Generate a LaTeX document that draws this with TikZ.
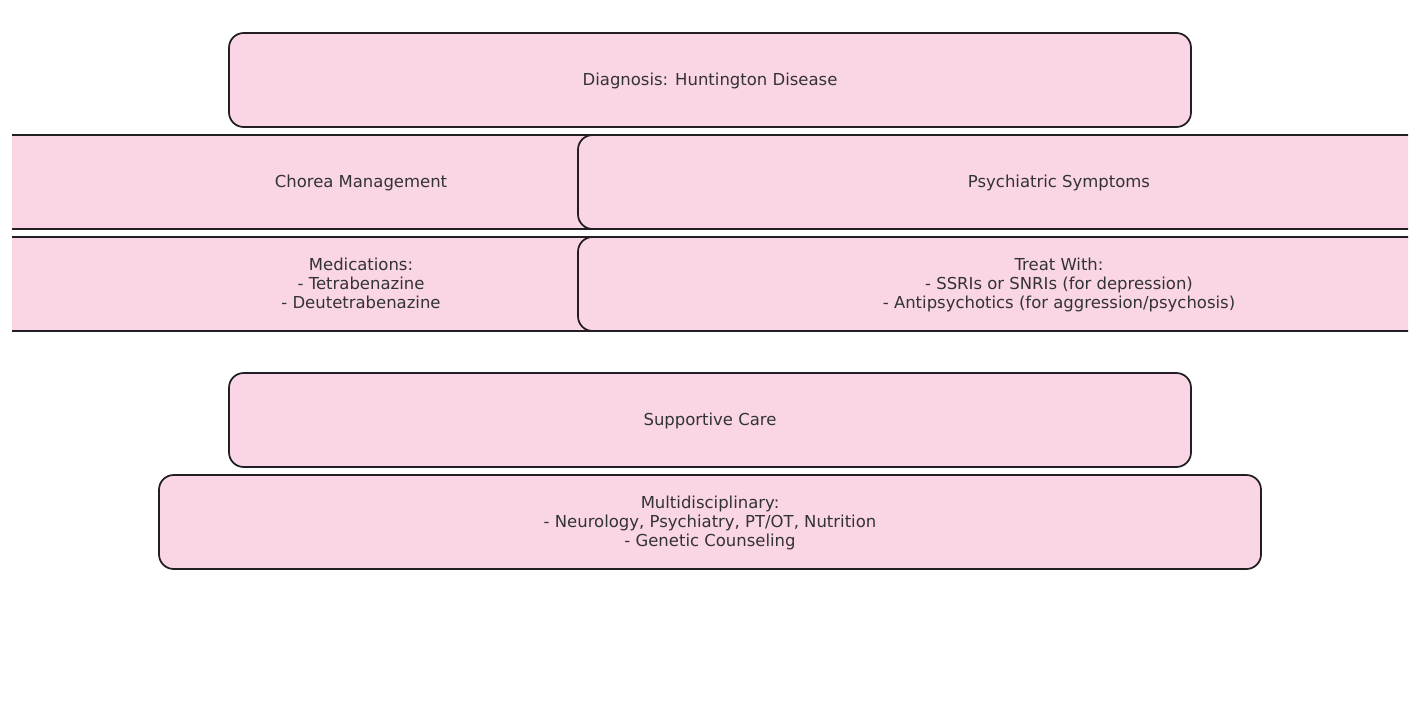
\documentclass[tikz,border=0pt]{standalone}
\usepackage{fontspec}
\setmainfont{DejaVu Sans}
\definecolor{boxpink}{RGB}{249,213,229}
\definecolor{boxline}{RGB}{34,30,34}
\definecolor{txt}{RGB}{51,51,51}
\tikzset{
  pbox/.style={draw=boxline, fill=boxpink, line width=1.3pt, rounded corners=11pt,
    minimum height=70.5pt, inner sep=0pt},
  wbox/.style={pbox, minimum width=721.5pt},
  xbox/.style={pbox, minimum width=826.5pt},
  lab/.style={align=center, text=txt, inner sep=0pt, yshift=-0.75pt,
    font=\fontsize{12.35}{14.25}\selectfont},
  mlab/.style={lab, yshift=1.5pt},
  dlab/.style={lab}
}
\begin{document}
\begin{tikzpicture}[x=0.75pt,y=-0.75pt]
\useasboundingbox (0,0) rectangle (1419,704);
\begin{scope}
\clip (12,0) rectangle (1408,704);
\node[wbox, label={[lab]center:{Diagnosis: Huntington Disease}}] (diag) at (710,80) {};
\node[wbox, label={[lab]center:{Chorea Management}}] (chorea) at (361,182) {};
\node[wbox, label={[lab]center:{Psychiatric Symptoms}}] (psych) at (1059,182) {};
\node[wbox, label={[mlab]center:{Medications:\\- Tetrabenazine\\- Deutetrabenazine}}] (meds) at (361,284) {};
\node[wbox, label={[dlab]center:{Treat With:\\- SSRIs or SNRIs (for depression)\\- Antipsychotics (for aggression/psychosis)}}] (treat) at (1059,284) {};
\node[wbox, label={[lab]center:{Supportive Care}}] (supp) at (710,420) {};
\node[xbox, label={[dlab]center:{Multidisciplinary:\\- Neurology, Psychiatry, PT/OT, Nutrition\\- Genetic Counseling}}] (multi) at (710,522) {};
\end{scope}
\end{tikzpicture}
\end{document}
